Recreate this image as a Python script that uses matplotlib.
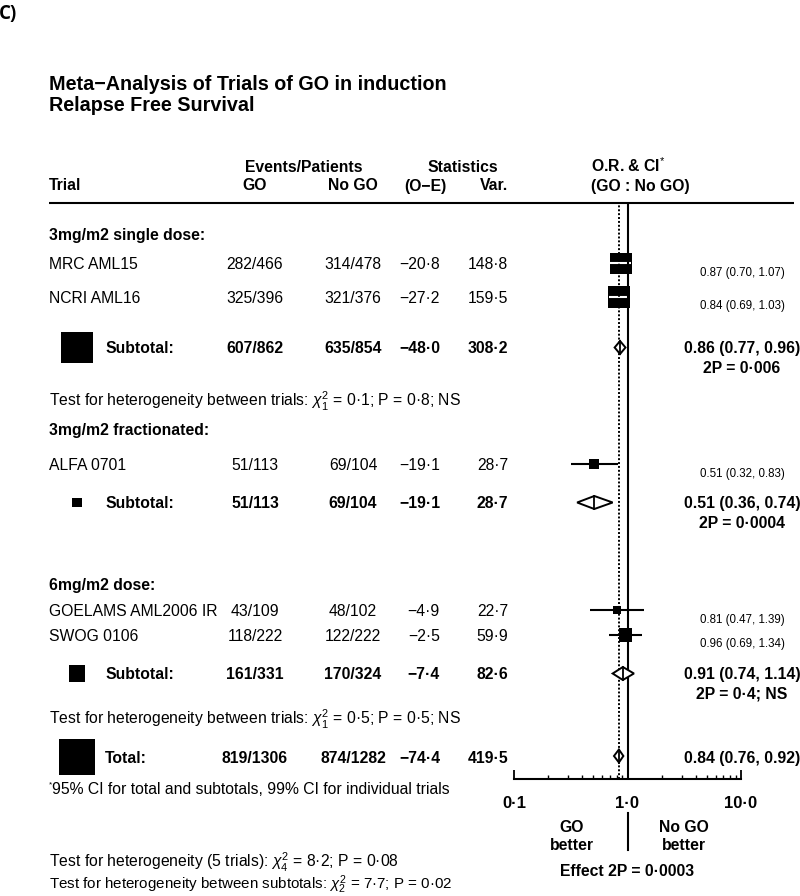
import numpy as np
import matplotlib
matplotlib.use("Agg")
import matplotlib.pyplot as plt
from matplotlib.ticker import LogLocator, NullFormatter, FixedLocator, FixedFormatter

plt.rcParams['font.family'] = ['Liberation Sans', 'DejaVu Sans']
plt.rcParams['mathtext.fontset'] = 'custom'
plt.rcParams['mathtext.rm'] = 'Liberation Sans'
plt.rcParams['mathtext.it'] = 'Liberation Sans:italic'
plt.rcParams['mathtext.bf'] = 'Liberation Sans:bold'

# ---------------- data ----------------
groups = ['3mg/m2 single dose:', '3mg/m2 fractionated:', '6mg/m2 dose:']
trial_group = [0, 0, 1, 2, 2]
trials = ['MRC AML15', 'NCRI AML16', 'ALFA 0701', 'GOELAMS AML2006 IR', 'SWOG 0106']
go_events = [282, 325, 51, 43, 118]
go_patients = [466, 396, 113, 109, 222]
nogo_events = [314, 321, 69, 48, 122]
nogo_patients = [478, 376, 104, 102, 222]
o_minus_e = [-20.8, -27.2, -19.1, -4.9, -2.5]
variance = [148.8, 159.5, 28.7, 22.7, 59.9]
odds_ratio = [0.87, 0.84, 0.51, 0.81, 0.96]
ci_low = [0.70, 0.69, 0.32, 0.47, 0.69]
ci_high = [1.07, 1.03, 0.83, 1.39, 1.34]

sub_go_events = [607, 51, 161]
sub_go_patients = [862, 113, 331]
sub_nogo_events = [635, 69, 170]
sub_nogo_patients = [854, 104, 324]
sub_o_minus_e = [-48.0, -19.1, -7.4]
sub_variance = [308.2, 28.7, 82.6]
sub_or = [0.86, 0.51, 0.91]
sub_low = [0.77, 0.36, 0.74]
sub_high = [0.96, 0.74, 1.14]
sub_p = ['2P = 0·006', '2P = 0·0004', '2P = 0·4; NS']

het_within = [r'Test for heterogeneity between trials: $\chi^2_1$ = 0·1; P = 0·8; NS',
              None,
              r'Test for heterogeneity between trials: $\chi^2_1$ = 0·5; P = 0·5; NS']

total_go = (819, 1306)
total_nogo = (874, 1282)
total_oe = -74.4
total_var = 419.5
total_or = 0.84
total_low = 0.76
total_high = 0.92

tick_values = [0.1, 1.0, 10.0]
tick_labels = ['0·1', '1·0', '10·0']

# ---------------- layout (pixel rows) ----------------
row_trial = [263.5, 297.0, 464.0, 610.0, 635.0]
row_group = [234.5, 429.0, 584.5]
row_sub = [347.5, 502.5, 673.5]
row_het = [401.0, None, 719.0]
row_total = 757.0
CAP = 5.8

X_NAME = 49
X_GO = 255
X_NOGO = 353
X_OE = 440
X_VAR = 508
X_RIGHT = 742
X_BOX = 77
X_SUBLABEL = 105
FS = 11.3
FS_SMALL = 8.3
PX = 0.72  # points per pixel at 100 dpi


def num(v):
    return f'{v:.1f}'.replace('.', '·').replace('-', '−')


fig = plt.figure(figsize=(8, 8.96), dpi=100)
ax = fig.add_axes([0, 0, 1, 1])
ax.set_xlim(0, 800)
ax.set_ylim(896, 0)
ax.axis('off')


def T(x, y, s, ha='left', bold=False, size=FS, **kw):
    ax.text(x, y, s, ha=ha, va='baseline', fontsize=size,
            fontweight='bold' if bold else 'normal', **kw)


# panel label and title
ax.text(-1, 19, 'C)', ha='left', va='baseline', fontsize=13.5, fontweight='bold',
        family=['Open Sans', 'DejaVu Sans'])
T(49, 90, 'Meta−Analysis of Trials of GO in induction', bold=True, size=14.2)
T(49, 111, 'Relapse Free Survival', bold=True, size=14.2)

# headers
T(304, 172, 'Events/Patients', ha='center', bold=True)
T(463, 172, 'Statistics', ha='center', bold=True)
T(591, 172, 'O.R. & CI$^{*}$', bold=True)
T(X_NAME, 190.5, 'Trial', bold=True)
T(X_GO, 190.5, 'GO', ha='center', bold=True)
T(X_NOGO, 190.5, 'No GO', ha='center', bold=True)
T(425, 190.5, '(O−E)', ha='center', bold=True)
T(X_VAR, 190.5, 'Var.', ha='right', bold=True)
T(591, 190.5, '(GO : No GO)', bold=True)
ax.plot([49, 794], [203, 203], color='black', lw=1.5, solid_capstyle='butt')

# groups and trials
for g, name in enumerate(groups):
    T(X_NAME, row_group[g] + CAP, name, bold=True)
for i, name in enumerate(trials):
    y = row_trial[i] + CAP
    T(X_NAME, y, name)
    T(X_GO, y, f'{go_events[i]}/{go_patients[i]}', ha='center')
    T(X_NOGO, y, f'{nogo_events[i]}/{nogo_patients[i]}', ha='center')
    T(X_OE, y, num(o_minus_e[i]), ha='right')
    T(X_VAR, y, num(variance[i]), ha='right')
    T(X_RIGHT, row_trial[i] + 12.5,
      f'{odds_ratio[i]:.2f} ({ci_low[i]:.2f}, {ci_high[i]:.2f})',
      ha='center', size=FS_SMALL)

for g in range(len(groups)):
    y = row_sub[g] + CAP
    T(X_SUBLABEL, y, 'Subtotal:', bold=True)
    T(X_GO, y, f'{sub_go_events[g]}/{sub_go_patients[g]}', ha='center', bold=True)
    T(X_NOGO, y, f'{sub_nogo_events[g]}/{sub_nogo_patients[g]}', ha='center', bold=True)
    T(X_OE, y, num(sub_o_minus_e[g]), ha='right', bold=True)
    T(X_VAR, y, num(sub_variance[g]), ha='right', bold=True)
    T(X_RIGHT, y, f'{sub_or[g]:.2f} ({sub_low[g]:.2f}, {sub_high[g]:.2f})',
      ha='center', bold=True)
    T(X_RIGHT, y + 19.5, sub_p[g], ha='center', bold=True)
    if het_within[g] is not None:
        T(X_NAME, row_het[g] + CAP, het_within[g])

# left-side weight boxes for subtotals and total
box_rows = row_sub + [row_total]
box_vars = sub_variance + [total_var]
ax.scatter([X_BOX] * len(box_rows), box_rows, marker='s',
           s=[(1.8 * np.sqrt(v) * PX) ** 2 for v in box_vars],
           color='black', linewidths=0, zorder=3)

# total row
y = row_total + CAP
T(X_SUBLABEL, y, 'Total:', bold=True)
T(X_GO, y, f'{total_go[0]}/{total_go[1]}', ha='center', bold=True)
T(X_NOGO, y, f'{total_nogo[0]}/{total_nogo[1]}', ha='center', bold=True)
T(X_OE, y, num(total_oe), ha='right', bold=True)
T(X_VAR, y, num(total_var), ha='right', bold=True)
T(X_RIGHT, y, f'{total_or:.2f} ({total_low:.2f}, {total_high:.2f})', ha='center', bold=True)

# footnote & bottom tests
ax.text(49, 786, '*', fontsize=6, ha='left', va='baseline')
T(52, 794, '95% CI for total and subtotals, 99% CI for individual trials')
T(X_NAME, 867.5, r'Test for heterogeneity (5 trials): $\chi^2_4$ = 8·2; P = 0·08')
T(X_NAME, 889.0, r'Test for heterogeneity between subtotals: $\chi^2_2$ = 7·7; P = 0·02',
  size=10.9)

# ---------------- forest axes ----------------
x0, x1 = 514, 741
y_top, y_bot = 203, 779
fx = fig.add_axes([x0 / 800, 1 - y_bot / 896, (x1 - x0) / 800, (y_bot - y_top) / 896])
fx.set_facecolor('none')
fx.set_xscale('log')
fx.set_xlim(0.1, 10)
fx.set_ylim(y_bot, y_top)
for s in ['left', 'right', 'top']:
    fx.spines[s].set_visible(False)
fx.spines['bottom'].set_linewidth(1.5)
fx.set_yticks([])
fx.xaxis.set_major_locator(FixedLocator(tick_values))
fx.xaxis.set_major_formatter(FixedFormatter(tick_labels))
fx.xaxis.set_minor_locator(LogLocator(base=10, subs=np.arange(2, 10)))
fx.xaxis.set_minor_formatter(NullFormatter())
fx.tick_params(axis='x', which='major', direction='in', length=6.5, width=1.3, pad=12,
               labelsize=12)
fx.tick_params(axis='x', which='minor', direction='in', length=2.8, width=1.0)
for lab in fx.get_xticklabels():
    lab.set_fontweight('bold')

# reference lines
fx.axvline(1.0, color='black', lw=1.5, zorder=5)
fx.axvline(total_or, color='black', lw=1.4, ls=(0, (1, 1)), zorder=5)

# trial boxes and CIs
sides = [1.8 * np.sqrt(v) for v in variance]
for i in range(len(trials)):
    xl = np.log10(odds_ratio[i])
    half = sides[i] / 2 / 113.5
    inside = (np.log10(ci_low[i]) >= xl - half) and (np.log10(ci_high[i]) <= xl + half)
    fx.plot([ci_low[i], ci_high[i]], [row_trial[i]] * 2,
            color='white' if inside else 'black', lw=1.5,
            zorder=4 if inside else 2, solid_capstyle='butt')
fx.scatter(odds_ratio, row_trial, marker='s', s=[(s_ * PX) ** 2 for s_ in sides],
           color='black', linewidths=0, zorder=3)

# diamonds
def diamond(est, lo, hi, yc, h=6.5):
    fx.fill([lo, est, hi, est, lo], [yc, yc - h, yc, yc + h, yc],
            facecolor='white', edgecolor='black', lw=1.4, zorder=6, joinstyle='miter')
    fx.plot([est, est], [yc - h, yc + h], color='black', lw=1.3, zorder=7)

for g in range(len(groups)):
    diamond(sub_or[g], sub_low[g], sub_high[g], row_sub[g])
diamond(total_or, total_low, total_high, row_total - 1)

# favour labels
fx.plot([1.0, 1.0], [813, 850], color='black', lw=1.5, clip_on=False)
T(572, 832, 'GO', ha='center', bold=True)
T(572, 850, 'better', ha='center', bold=True)
T(684, 832, 'No GO', ha='center', bold=True)
T(684, 850, 'better', ha='center', bold=True)
T(627, 876, 'Effect 2P = 0·0003', ha='center', bold=True)

fig.savefig('out.png', dpi=100)
